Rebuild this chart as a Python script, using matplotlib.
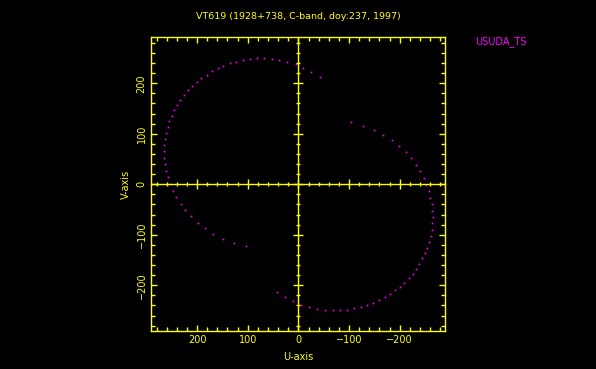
import matplotlib
matplotlib.use("Agg")
import matplotlib.pyplot as plt
from matplotlib.ticker import MultipleLocator
import numpy as np

title = "VT619 (1928+738, C-band, doy:237, 1997)"
station_label = "USUDA_TS"
tick_values = [200, 100, 0, -100, -200]

# uv track (U, V) in one half; the conjugate (-U, -V) is also plotted
u_track = [-42.8, -25.7, -9.9, 4.5, 21.7, 37.5, 51.9, 67.7, 81.5, 95.3,
           109.7, 123.0, 134.8, 148.0, 158.5, 170.3, 180.8, 191.4, 200.5, 209.2,
           217.7, 225.6, 232.9, 238.8, 244.7, 249.9, 254.6, 257.7, 261.1, 263.1,
           264.5, 265.0, 264.5, 263.1, 260.5, 257.2, 252.6, 247.3, 240.8, 232.1,
           223.0, 211.8, 197.9, 184.1, 167.8, 149.2, 126.9, 103.2]
v_track = [212.5, 223.0, 230.9, 238.2, 242.8, 246.1, 248.1, 249.5, 249.5, 248.1,
           245.5, 242.8, 239.6, 234.9, 229.7, 223.8, 217.0, 209.9, 202.6, 194.7,
           186.1, 176.8, 166.9, 157.0, 146.5, 135.8, 125.3, 113.5, 102.2, 90.3,
           77.2, 65.3, 52.7, 39.6, 26.9, 13.9, 0.6, -12.7, -25.7, -39.0,
           -51.5, -63.4, -76.0, -87.1, -97.8, -107.7, -116.2, -122.8]

YEL = "#ffff00"
MAG = "#ff00ff"
FONT = "DejaVu Sans"
FS = 7

fig = plt.figure(figsize=(5.96, 3.69), dpi=100, facecolor="black")
pos = [150.7 / 596, (369 - 331) / 369, (445.3 - 150.7) / 596, (331 - 37.3) / 369]
ax = fig.add_axes(pos, facecolor="black")

u = np.array(u_track)
v = np.array(v_track)
ax.plot(u, v, linestyle="none", marker="s", markersize=1.2, color=MAG, mec="none")
ax.plot(-u, -v, linestyle="none", marker="s", markersize=1.2, color=MAG, mec="none")

xlim = (291.5, -290.0)
ylim = (-290.5, 291.0)
ax.set_xlim(*xlim)
ax.set_ylim(*ylim)

for sp in ax.spines.values():
    sp.set_color(YEL)
    sp.set_linewidth(1.0)

ax.xaxis.set_major_locator(MultipleLocator(100))
ax.xaxis.set_minor_locator(MultipleLocator(20))
ax.yaxis.set_major_locator(MultipleLocator(100))
ax.yaxis.set_minor_locator(MultipleLocator(20))
ax.tick_params(which="both", direction="in", colors=YEL, top=True, right=True,
               width=1.0, labelsize=FS, pad=3)
ax.tick_params(which="major", length=4.0)
ax.tick_params(which="minor", length=2.7)
ax.set_xticks(tick_values)
ax.set_xticklabels([str(t).replace("-", "\u2212") for t in tick_values],
                   color=YEL, family=FONT)
ax.set_yticks(tick_values)
ax.set_yticklabels([str(t).replace("-", "\u2212") for t in tick_values],
                   color=YEL, family=FONT, rotation=90, va="center")

ax.set_xlabel("U-axis", color=YEL, fontsize=FS, family=FONT, labelpad=5)
ax.set_ylabel("V-axis", color=YEL, fontsize=FS, family=FONT, labelpad=4)
ax.set_title(title, color=YEL, fontsize=6.8, family=FONT, pad=13)

# center cross axes
ax2 = fig.add_axes(pos, facecolor="none")
ax2.set_xlim(*xlim)
ax2.set_ylim(*ylim)
for name in ("top", "right"):
    ax2.spines[name].set_visible(False)
ax2.spines["left"].set_position(("data", 0))
ax2.spines["bottom"].set_position(("data", 0))
for name in ("left", "bottom"):
    ax2.spines[name].set_color(YEL)
    ax2.spines[name].set_linewidth(1.0)
ax2.xaxis.set_major_locator(MultipleLocator(100))
ax2.xaxis.set_minor_locator(MultipleLocator(20))
ax2.yaxis.set_major_locator(MultipleLocator(100))
ax2.yaxis.set_minor_locator(MultipleLocator(20))
ax2.tick_params(which="both", direction="inout", colors=YEL, width=1.0,
                labelbottom=False, labelleft=False)
ax2.tick_params(which="major", length=6.5)
ax2.tick_params(which="minor", length=3.4)

fig.text(475 / 596, 1 - 42 / 369, station_label, color=MAG, fontsize=FS,
         family=FONT, ha="left", va="center")

fig.savefig("out.png", dpi=100, facecolor="black")
